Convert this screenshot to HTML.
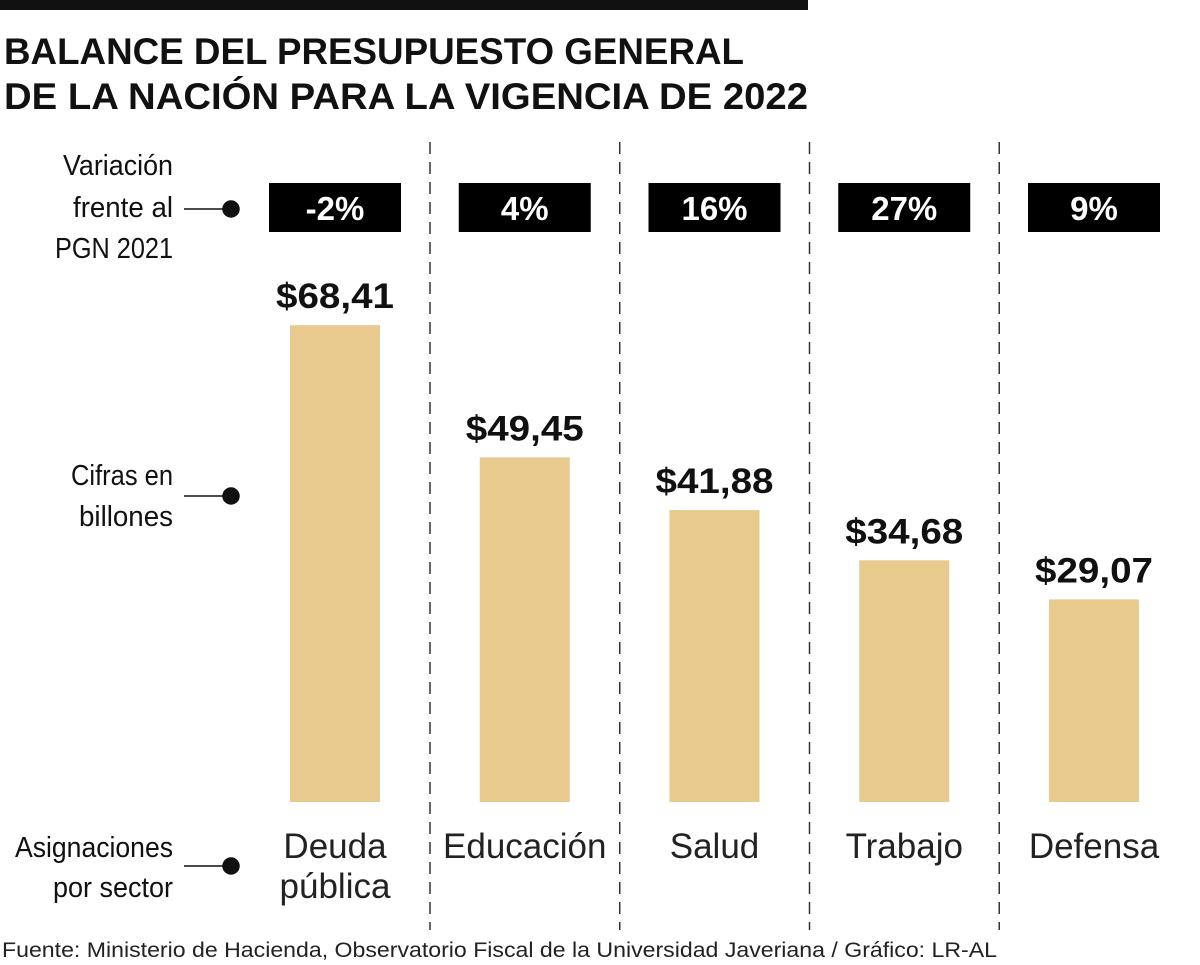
<!DOCTYPE html>
<html><head><meta charset="utf-8">
<style>
html,body{margin:0;padding:0;background:#fff;}
svg{display:block;font-family:"Liberation Sans",sans-serif;}
</style></head>
<body>
<svg id="chart" width="1200" height="965" viewBox="0 0 1200 965" xmlns="http://www.w3.org/2000/svg">
<rect x="0" y="0" width="808" height="10" fill="#111"/>
<text x="4" y="64" font-size="37" font-weight="bold" fill="#111" textLength="740" lengthAdjust="spacingAndGlyphs">BALANCE DEL PRESUPUESTO GENERAL</text>
<text x="4" y="109" font-size="37" font-weight="bold" fill="#111" textLength="804" lengthAdjust="spacingAndGlyphs">DE LA NACIÓN PARA LA VIGENCIA DE 2022</text>
<g font-size="29" fill="#111" text-anchor="end">
<text x="173" y="175" textLength="110" lengthAdjust="spacingAndGlyphs">Variación</text>
<text x="173" y="217" textLength="100" lengthAdjust="spacingAndGlyphs">frente al</text>
<text x="173" y="258" textLength="118" lengthAdjust="spacingAndGlyphs">PGN 2021</text>
<text x="173" y="485" textLength="102" lengthAdjust="spacingAndGlyphs">Cifras en</text>
<text x="173" y="526" textLength="94" lengthAdjust="spacingAndGlyphs">billones</text>
<text x="173" y="857" textLength="158" lengthAdjust="spacingAndGlyphs">Asignaciones</text>
<text x="173" y="897" textLength="120" lengthAdjust="spacingAndGlyphs">por sector</text>
</g>
<g stroke="#111" stroke-width="1.5">
<line x1="184" y1="209" x2="226" y2="209"/><circle cx="231" cy="209" r="8" fill="#111"/>
<line x1="184" y1="496" x2="226" y2="496"/><circle cx="231" cy="496" r="8" fill="#111"/>
<line x1="184" y1="866" x2="226" y2="866"/><circle cx="231" cy="866" r="8" fill="#111"/>
</g>
<g id="seps" stroke="#333" stroke-width="1.5" stroke-dasharray="12,8"></g>
<g id="marks"></g>
<text x="2" y="957" font-size="21" fill="#222" textLength="995" lengthAdjust="spacingAndGlyphs">Fuente: Ministerio de Hacienda, Observatorio Fiscal de la Universidad Javeriana / Gráfico: LR-AL</text>
</svg>
<script>
const categories = [["Deuda","pública"],["Educación"],["Salud"],["Trabajo"],["Defensa"]];
const values = [68.41, 49.45, 41.88, 34.68, 29.07];
const valueLabels = ["$68,41","$49,45","$41,88","$34,68","$29,07"];
const variations = ["-2%","4%","16%","27%","9%"];

const NS="http://www.w3.org/2000/svg";
const baseY=802, pxPerUnit=6.97, colW=189.75, firstCenter=335, barW=90;
const xc=i=>firstCenter+i*colW;
const y=v=>baseY-v*pxPerUnit;
function mk(tag,attrs,parent,text){const e=document.createElementNS(NS,tag);for(const k in attrs)e.setAttribute(k,attrs[k]);if(text!=null)e.textContent=text;parent.appendChild(e);return e;}
const seps=document.getElementById('seps'), marks=document.getElementById('marks');
for(let i=0;i<4;i++){
  const l=mk('line',{x1:430+i*189.75,x2:430+i*189.75,y1:142,y2:930},seps);
  
  
}
values.forEach((v,i)=>{
  const c=xc(i);
  const box=mk('rect',{x:c-66,y:183,width:132,height:49,fill:'#000'},marks);
  
  
  const vt=mk('text',{x:c,y:220,'font-size':33,'font-weight':'bold',fill:'#fff','text-anchor':'middle'},marks,variations[i]);
  
  
  const bar=mk('rect',{x:c-barW/2,y:y(v),width:barW,height:baseY-y(v),fill:'#E8CA8F'},marks);
  
  
  const lt=mk('text',{x:c,y:y(v)-17,'font-size':35,'font-weight':'bold',fill:'#111','text-anchor':'middle',textLength:118,lengthAdjust:'spacingAndGlyphs'},marks,valueLabels[i]);
  
  
  categories[i].forEach((s,j)=>{
    const ct=mk('text',{x:c,y:858+j*40,'font-size':35,fill:'#222','text-anchor':'middle'},marks,s);
    
    
  });
});
</script>
</body></html>
